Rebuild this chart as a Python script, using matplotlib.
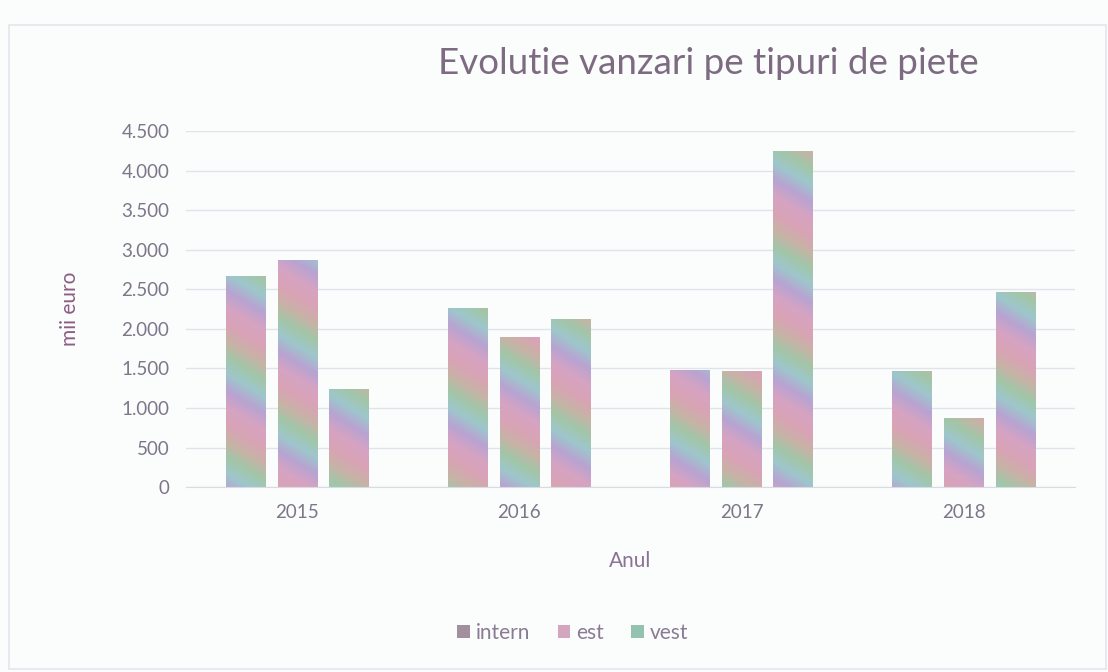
import numpy as np
import matplotlib
matplotlib.use("Agg")
import matplotlib.pyplot as plt
import matplotlib.colors as mc
from matplotlib.patches import Rectangle, Patch
from matplotlib.ticker import FuncFormatter

# data (mii euro)
years = ["2015", "2016", "2017", "2018"]
series = ["intern", "est", "vest"]
intern = [2670, 2270, 1480, 1470]
est = [2870, 1900, 1470, 880]
vest = [1240, 2130, 4250, 2460]
yticks = [0, 500, 1000, 1500, 2000, 2500, 3000, 3500, 4000, 4500]

legend_colors = ["#a3909e", "#d2a6bc", "#93c2b0"]
stripe_colors = ["#d6a3c2", "#b8a3d2", "#9ec6cc", "#a2c6a8", "#c8b2a6", "#d9a3b6", "#d6a3c2"]

plt.rcParams['font.family'] = ['Lato', 'DejaVu Sans']

fig = plt.figure(figsize=(11.08, 6.72), dpi=100)
fig.patch.set_facecolor("#fbfcfc")
ax = fig.add_axes([0.168, 0.275, 0.802, 0.53])
ax.set_facecolor("none")

x = np.arange(len(years))
w = 0.177
step = 0.232
ax.set_xlim(-0.5, len(years) - 0.5)
ax.set_ylim(0, 4500)

cmap = mc.LinearSegmentedColormap.from_list("stripes", stripe_colors)
fig.canvas.draw()
to_px = ax.transData

for i, vals in enumerate([intern, est, vest]):
    bars = ax.bar(x + (i - 1) * step, vals, width=w, facecolor="none", edgecolor="none")
    for b in bars:
        bx, by = b.get_x(), b.get_y()
        bw, bh = b.get_width(), b.get_height()
        ny, nx = 200, 40
        xs = np.linspace(bx, bx + bw, nx)
        ys = np.linspace(by, by + bh, ny)
        X, Y = np.meshgrid(xs, ys)
        pts = to_px.transform(np.column_stack([X.ravel(), Y.ravel()]))
        px = pts[:, 0].reshape(X.shape)
        py = pts[:, 1].reshape(Y.shape)
        phase = ((py + 0.6 * px) / 100.0 + 0.3 * i) % 1.0
        im = ax.imshow(phase, extent=(bx, bx + bw, by, by + bh), origin="lower",
                       cmap=cmap, vmin=0, vmax=1, aspect="auto", interpolation="bilinear",
                       zorder=2)
        im.set_clip_path(b)

ax.set_xlim(-0.5, len(years) - 0.5)
ax.set_ylim(0, 4500)
ax.set_yticks(yticks)
ax.yaxis.set_major_formatter(FuncFormatter(lambda v, p: f"{int(v):,}".replace(",", ".")))
ax.set_xticks(x)
ax.set_xticklabels(years)
ax.grid(axis="y", color="#dfe3ea", linewidth=1)
ax.set_axisbelow(True)
for s in ["top", "right", "left"]:
    ax.spines[s].set_visible(False)
ax.spines["bottom"].set_color("#d8dce2")
ax.tick_params(axis="x", length=0, labelsize=13.5, labelcolor="#7d7689", pad=12)
ax.tick_params(axis="y", length=0, labelsize=13.5, labelcolor="#7d7689", pad=12)

ax.set_ylabel("mii euro", fontsize=15, color="#8c5e84", labelpad=30)
ax.set_xlabel("Anul", fontsize=15, color="#8a7394", labelpad=22)

fig.text(0.639, 0.905, "Evolutie vanzari pe tipuri de piete", ha="center", va="center",
         fontsize=26.5, color="#7d6b82")

handles = [Patch(facecolor=c, edgecolor="none") for c in legend_colors]
fig.legend(handles, series, loc="center", bbox_to_anchor=(0.517, 0.058), ncol=3,
           frameon=False, fontsize=15, handlelength=0.6, handleheight=0.6,
           handletextpad=0.3, columnspacing=1.3, labelcolor="#8a7b95")

fig.patches.append(Rectangle((0.008, 0.005), 0.99, 0.958, transform=fig.transFigure,
                             fill=False, edgecolor="#e2e6ea", linewidth=1.2))

fig.savefig("out.png", dpi=100, facecolor=fig.get_facecolor())
